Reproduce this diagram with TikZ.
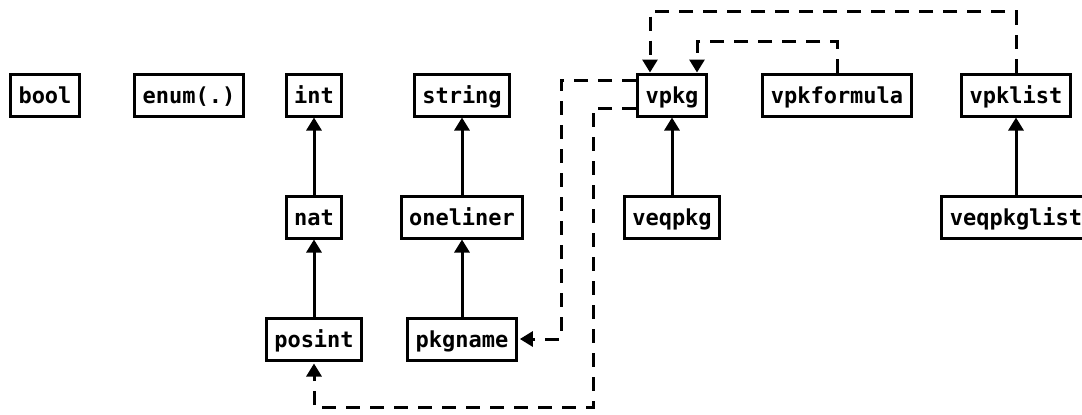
\documentclass[tikz,border=0pt]{standalone}
\usepackage{fontspec}
\setmonofont{DejaVu Sans Mono}
\usetikzlibrary{positioning, arrows.meta}

\tikzset{
  uses/.style={line width=1.5pt, -{Triangle[length=6.5pt, width=7.5pt]}},
  dep/.style={uses, dash pattern=on 7pt off 5pt}
}

\begin{document}
\begin{tikzpicture}[node distance=61pt, every node/.style={draw, line width=1.5pt, text centered, text height=9.5pt, text depth=1.5pt, minimum height=21pt, inner xsep=4pt, font=\fontsize{11}{13}\selectfont\ttfamily\bfseries}]

\useasboundingbox (0,0) rectangle (541pt,-207pt);

  % Top row
  \node (bool) at (22.5pt,-47.5pt) {bool};
  \node (enum) [right of=bool, xshift=11pt] {enum(.)};
  \node (int) [right of=enum, xshift=1.5pt] {int};
  \node (string) [right of=int, xshift=13pt] {string};
  \node (vpkg) [right of=string, xshift=44pt] {vpkg};
  \node (vpkformula) [right of=vpkg, xshift=21.5pt] {vpkformula};
  \node (vpklist) [right of=vpkformula, xshift=28.5pt] {vpklist};

  % Second row
  \node (nat) [below of=int] {nat};
  \node (oneliner) [below of=string] {oneliner};
  \node (veqpkg) [below of=vpkg] {veqpkg};
  \node (veqpkglist) [below of=vpklist] {veqpkglist};

  % Third row
  \node (posint) [below of=nat] {posint};
  \node (pkgname) [below of=oneliner] {pkgname};

  % Arrows
  \draw[uses] (nat) -- (int);
  \draw[uses] (posint) -- (nat);
  \draw[uses] (oneliner) -- (string);
  \draw[uses] (pkgname) -- (oneliner);
  \draw[uses] (veqpkg) -- (vpkg);
  \draw[uses] (veqpkglist) -- (vpklist);

  % Dashed links
  \draw[dep] (vpklist.north) -- ++(0,30.5pt) -| ([xshift=-11pt]vpkg.north);
  \draw[dep] (vpkformula.north) -- ++(0,15.5pt) -| ([xshift=12.5pt]vpkg.north);
  \draw[dep] ([yshift=7.5pt]vpkg.west) -- ++(-37.5pt,0) |- ([xshift=1pt]pkgname.east);
  \draw[dep] ([yshift=-6.5pt]vpkg.west) -- ++(-21.5pt,0) |- ([yshift=-23pt]posint.south) -- ([yshift=-1pt]posint.south);

\end{tikzpicture}
\end{document}
